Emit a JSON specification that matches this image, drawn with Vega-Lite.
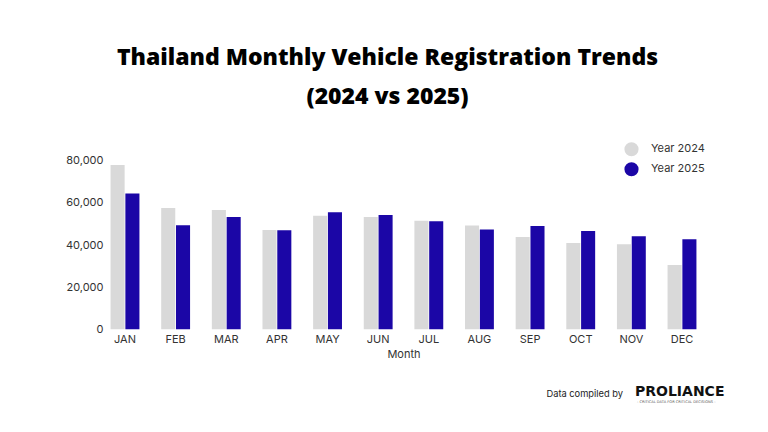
{
  "$schema": "https://vega.github.io/schema/vega-lite/v6.json",
  "autosize": "none",
  "width": 597,
  "height": 168.6,
  "padding": {"left": 105, "top": 160.7, "right": 66, "bottom": 102.7},
  "background": "white",
  "config": {
    "view": {"stroke": null},
    "font": "Inter",
    "axis": {"labelFont": "Inter", "titleFont": "Inter", "labelColor": "#333333", "titleColor": "#333333"},
    "legend": {"labelFont": "Inter"}
  },
  "title": {
    "text": ["Thailand Monthly Vehicle Registration Trends", "(2024 vs 2025)"],
    "font": "Open Sans",
    "fontWeight": 800,
    "fontSize": 23,
    "color": "#000000",
    "lineHeight": 39,
    "anchor": "middle",
    "frame": "group",
    "dx": -16,
    "offset": 33
  },
  "datasets": {
    "regs": [
      {"month": "JAN", "year": "Year 2024", "value": 78000},
      {"month": "JAN", "year": "Year 2025", "value": 64400},
      {"month": "FEB", "year": "Year 2024", "value": 57600},
      {"month": "FEB", "year": "Year 2025", "value": 49400},
      {"month": "MAR", "year": "Year 2024", "value": 56600},
      {"month": "MAR", "year": "Year 2025", "value": 53300},
      {"month": "APR", "year": "Year 2024", "value": 47100},
      {"month": "APR", "year": "Year 2025", "value": 47000},
      {"month": "MAY", "year": "Year 2024", "value": 53900},
      {"month": "MAY", "year": "Year 2025", "value": 55500},
      {"month": "JUN", "year": "Year 2024", "value": 53300},
      {"month": "JUN", "year": "Year 2025", "value": 54200},
      {"month": "JUL", "year": "Year 2024", "value": 51500},
      {"month": "JUL", "year": "Year 2025", "value": 51300},
      {"month": "AUG", "year": "Year 2024", "value": 49200},
      {"month": "AUG", "year": "Year 2025", "value": 47300},
      {"month": "SEP", "year": "Year 2024", "value": 43800},
      {"month": "SEP", "year": "Year 2025", "value": 49000},
      {"month": "OCT", "year": "Year 2024", "value": 41000},
      {"month": "OCT", "year": "Year 2025", "value": 46700},
      {"month": "NOV", "year": "Year 2024", "value": 40300},
      {"month": "NOV", "year": "Year 2025", "value": 44100},
      {"month": "DEC", "year": "Year 2024", "value": 30500},
      {"month": "DEC", "year": "Year 2025", "value": 42700}
    ],
    "footer": [
      {"label": "Data compiled by", "kind": "credit"}
    ]
  },
  "layer": [
    {
      "data": {"name": "regs"},
      "mark": {"type": "bar"},
      "encoding": {
        "x": {
          "field": "month",
          "type": "nominal",
          "sort": ["JAN","FEB","MAR","APR","MAY","JUN","JUL","AUG","SEP","OCT","NOV","DEC"],
          "scale": {"paddingInner": 0.43, "paddingOuter": 0.11},
          "axis": {"title": "Month", "labelAngle": 0, "domain": false, "ticks": false, "labelFontSize": 11, "labelPadding": 4, "titleFontSize": 11, "titleFontWeight": "normal", "titlePadding": 4}
        },
        "xOffset": {"field": "year", "type": "nominal", "scale": {"paddingInner": 0.05}},
        "y": {
          "field": "value",
          "type": "quantitative",
          "scale": {"domain": [0, 80000], "nice": false},
          "axis": {"title": null, "values": [0, 20000, 40000, 60000, 80000], "format": ",.0f", "grid": false, "domain": false, "ticks": false, "labelFontSize": 11, "labelPadding": 2}
        },
        "color": {
          "field": "year",
          "type": "nominal",
          "scale": {"domain": ["Year 2024", "Year 2025"], "range": ["#d9d9d9", "#1b06a6"]},
          "legend": {
            "title": null,
            "orient": "none",
            "legendX": 519,
            "legendY": -19,
            "symbolType": "circle",
            "symbolSize": 200,
            "symbolStrokeWidth": 0,
            "symbolOpacity": 1,
            "labelFontSize": 11,
            "labelColor": "#333333",
            "labelOffset": 12,
            "rowPadding": 5,
            "padding": 0
          }
        }
      }
    },
    {
      "data": {"name": "footer"},
      "mark": {"type": "text", "align": "right", "baseline": "middle", "dx": -59, "fontSize": 9.3, "color": "#222222", "font": "Inter"},
      "encoding": {
        "x": {"datum": "DEC"},
        "y": {"datum": -30800},
        "text": {"field": "label"}
      }
    },
    {
      "data": {"values": [{"logo": "PROLIANCE"}]},
      "mark": {"type": "text", "align": "left", "baseline": "middle", "dx": -47, "fontSize": 14, "fontWeight": "bold", "color": "#111111", "font": "DejaVu Sans"},
      "encoding": {
        "x": {"datum": "DEC"},
        "y": {"datum": -29800},
        "text": {"field": "logo"}
      }
    },
    {
      "data": {"values": [{"tag": "- CRITICAL DATA FOR CRITICAL DECISIONS -"}]},
      "mark": {"type": "text", "align": "left", "baseline": "middle", "dx": -45, "fontSize": 3.6, "color": "#555555", "font": "DejaVu Sans"},
      "encoding": {
        "x": {"datum": "DEC"},
        "y": {"datum": -34600},
        "text": {"field": "tag"}
      }
    }
  ]
}
